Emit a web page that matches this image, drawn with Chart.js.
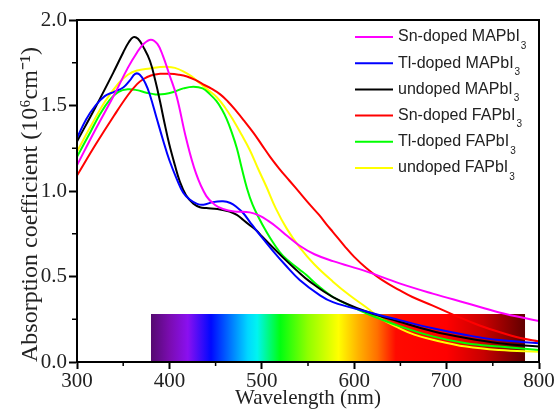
<!DOCTYPE html>
<html>
<head>
<meta charset="utf-8">
<title>Absorption coefficient of doped MAPbI3 and FAPbI3</title>
<script src="https://cdn.jsdelivr.net/npm/chart.js@4.4.1/dist/chart.umd.min.js"></script>
<style>
  html, body { margin: 0; padding: 0; background: #fff; }
  #wrap { width: 556px; height: 409px; }
</style>
</head>
<body>
<div id="wrap"><canvas id="chart" width="556" height="409"></canvas></div>
<script>
// Wavelength (nm) vs absorption coefficient (10^6 cm^-1), one array per film
const snMAPbI3 = [[300,1.15],[320,1.36],[340,1.56],[355,1.72],[365,1.81],[372,1.86],[380,1.885],[387,1.86],[393,1.79],[400,1.68],[408,1.55],[418,1.31],[429,1.10],[440,0.97],[449,0.92],[458,0.895],[470,0.88],[487,0.875],[498,0.855],[507,0.825],[516,0.79],[528,0.735],[541,0.68],[557,0.63],[577,0.59],[613,0.53],[649,0.46],[685,0.40],[721,0.345],[757,0.29],[800,0.24]];
const tlMAPbI3 = [[300,1.31],[310,1.42],[320,1.50],[330,1.555],[340,1.58],[350,1.605],[357,1.645],[363,1.685],[368,1.68],[374,1.63],[379,1.56],[386,1.43],[393,1.30],[400,1.18],[408,1.07],[415,0.99],[422,0.95],[430,0.925],[437,0.92],[447,0.935],[458,0.94],[466,0.93],[473,0.905],[480,0.87],[487,0.82],[494,0.77],[503,0.71],[512,0.65],[525,0.57],[541,0.48],[563,0.39],[577,0.35],[613,0.295],[649,0.245],[685,0.197],[721,0.158],[757,0.128],[800,0.11]];
const undopedMAPbI3 = [[300,1.29],[320,1.49],[340,1.70],[350,1.81],[356,1.87],[361,1.90],[366,1.89],[372,1.84],[379,1.76],[385,1.64],[390,1.52],[395,1.39],[400,1.27],[406,1.15],[411,1.06],[418,0.975],[426,0.925],[433,0.905],[440,0.90],[452,0.895],[465,0.88],[473,0.86],[480,0.83],[487,0.80],[494,0.77],[500,0.735],[512,0.67],[525,0.60],[537,0.54],[552,0.47],[577,0.38],[613,0.295],[649,0.235],[685,0.18],[721,0.14],[757,0.11],[800,0.09]];
const snFAPbI3 = [[300,1.09],[320,1.27],[340,1.44],[355,1.56],[365,1.625],[372,1.655],[380,1.675],[390,1.685],[400,1.685],[410,1.68],[419,1.67],[428,1.65],[436,1.625],[445,1.60],[455,1.565],[463,1.525],[472,1.47],[481,1.41],[491,1.34],[500,1.27],[509,1.20],[519,1.13],[530,1.06],[541,0.99],[552,0.92],[562,0.86],[570,0.805],[577,0.76],[590,0.675],[600,0.615],[613,0.55],[630,0.48],[649,0.42],[663,0.38],[685,0.33],[710,0.27],[735,0.215],[757,0.175],[780,0.14],[800,0.12]];
const tlFAPbI3 = [[300,1.20],[315,1.35],[325,1.45],[335,1.53],[345,1.58],[355,1.595],[365,1.59],[375,1.575],[385,1.565],[395,1.567],[405,1.58],[415,1.60],[426,1.61],[436,1.60],[444,1.565],[451,1.525],[457,1.475],[462,1.42],[467,1.35],[473,1.25],[478,1.14],[484,1.015],[490,0.92],[498,0.83],[503,0.78],[512,0.70],[523,0.62],[541,0.54],[548,0.51],[560,0.45],[577,0.38],[595,0.33],[613,0.285],[649,0.21],[685,0.15],[721,0.11],[757,0.09],[800,0.07]];
const undopedFAPbI3 = [[300,1.23],[315,1.38],[330,1.52],[345,1.63],[355,1.68],[365,1.705],[379,1.717],[390,1.725],[397,1.727],[406,1.72],[415,1.70],[424,1.67],[433,1.63],[442,1.59],[451,1.55],[460,1.49],[469,1.415],[478,1.33],[487,1.24],[496,1.13],[505,1.025],[515,0.90],[527,0.78],[541,0.67],[557,0.57],[577,0.47],[595,0.39],[613,0.32],[630,0.25],[649,0.197],[665,0.16],[685,0.13],[721,0.09],[757,0.07],[800,0.06]];

const seriesLabels = ['Sn-doped MAPbI', 'Tl-doped MAPbI', 'undoped MAPbI', 'Sn-doped FAPbI', 'Tl-doped FAPbI', 'undoped FAPbI'];
const seriesData = [snMAPbI3, tlMAPbI3, undopedMAPbI3, snFAPbI3, tlFAPbI3, undopedFAPbI3];
const seriesColors = ['#ff00ff', '#0000ff', '#000000', '#ff0000', '#00ff00', '#ffff00'];

// Visible-spectrum band: wavelength extent, height, and colour stops
const spectrumBand = [[380, 0.28], [785, 0.28]];
const spectrumStops = [
  [380, '#550a70'], [400, '#7a0cb0'], [420, '#8a10f0'], [445, '#0008ff'],
  [465, '#0070ff'], [485, '#00d8ff'], [495, '#00f4f0'], [520, '#00ff10'],
  [550, '#90ff00'], [583, '#ffff00'], [605, '#ffb000'], [625, '#ff7000'],
  [645, '#ff0a00'], [700, '#ff0000'], [740, '#c80000'], [785, '#600000']
];

const xTicks = { min: 300, max: 800, step: 100 };
const yTicks = { min: 0, max: 2, step: 0.5 };

const toPoints = arr => arr.map(([x, y]) => ({ x, y }));

function spectrumFill(ctx) {
  const chart = ctx.chart;
  const area = chart.chartArea;
  const xs = chart.scales.x;
  if (!area || !xs) return 'rgba(0,0,0,0)';
  const a = spectrumBand[0][0], b = spectrumBand[spectrumBand.length - 1][0];
  const g = chart.ctx.createLinearGradient(xs.getPixelForValue(a), 0, xs.getPixelForValue(b), 0);
  spectrumStops.forEach(([w, c]) => g.addColorStop((w - a) / (b - a), c));
  return g;
}

const datasets = seriesData.map((arr, i) => ({
  label: seriesLabels[i],
  data: toPoints(arr),
  borderColor: seriesColors[i],
  backgroundColor: seriesColors[i],
  borderWidth: 2,
  pointRadius: 0,
  fill: false,
  tension: 0.4,
  order: 0
}));
datasets.push({
  label: 'spectrum',
  data: toPoints(spectrumBand),
  borderWidth: 0,
  borderColor: 'rgba(0,0,0,0)',
  pointRadius: 0,
  tension: 0,
  fill: 'origin',
  backgroundColor: spectrumFill,
  order: 10
});

// Plot frame, minor ticks and the line legend
const framePlugin = {
  id: 'frame',
  afterDraw(chart) {
    const { ctx, chartArea: a, scales } = chart;
    ctx.save();
    ctx.strokeStyle = '#000';
    ctx.lineWidth = 2;
    ctx.strokeRect(a.left, a.top, a.right - a.left, a.bottom - a.top);
    ctx.lineWidth = 1.5;
    const xt = scales.x.ticks, yt = scales.y.ticks;
    for (let i = 0; i < xt.length - 1; i++) {
      const px = scales.x.getPixelForValue((xt[i].value + xt[i + 1].value) / 2);
      ctx.beginPath(); ctx.moveTo(px, a.bottom); ctx.lineTo(px, a.bottom + 4); ctx.stroke();
    }
    for (let i = 0; i < yt.length - 1; i++) {
      const py = scales.y.getPixelForValue((yt[i].value + yt[i + 1].value) / 2);
      ctx.beginPath(); ctx.moveTo(a.left, py); ctx.lineTo(a.left - 5, py); ctx.stroke();
    }
    // legend
    const lx0 = a.right - 184, lx1 = a.right - 146, tx = a.right - 141;
    seriesLabels.forEach((lab, i) => {
      const y = a.top + 17 + i * 26.2;
      ctx.strokeStyle = seriesColors[i];
      ctx.lineWidth = 2;
      ctx.beginPath(); ctx.moveTo(lx0, y); ctx.lineTo(lx1, y); ctx.stroke();
      ctx.fillStyle = '#222';
      ctx.textBaseline = 'middle';
      ctx.textAlign = 'left';
      ctx.font = '16px "Liberation Sans", Arial, sans-serif';
      ctx.fillText(lab, tx, y);
      const w = ctx.measureText(lab).width;
      ctx.font = '10px "Liberation Sans", Arial, sans-serif';
      ctx.fillText('3', tx + w + 1, y + 9);
    });
    ctx.restore();
  }
};

const serif = '"Liberation Serif", "Times New Roman", serif';

new Chart(document.getElementById('chart'), {
  type: 'line',
  data: { datasets },
  plugins: [framePlugin],
  options: {
    responsive: false,
    animation: false,
    devicePixelRatio: 1,
    layout: { padding: { top: 20, right: 17, left: 0, bottom: 0 } },
    plugins: { legend: { display: false }, tooltip: { enabled: false } },
    scales: {
      x: {
        type: 'linear',
        min: xTicks.min, max: xTicks.max,
        afterFit(s) { s.height = 47; },
        ticks: { stepSize: xTicks.step, color: '#222', font: { family: serif, size: 21 }, padding: 0, maxRotation: 0 },
        grid: { drawOnChartArea: false, drawTicks: true, tickLength: 7, tickWidth: 2, tickColor: '#000' },
        border: { display: true, color: '#000', width: 2 },
        title: { display: true, text: 'Wavelength (nm)', color: '#222', font: { family: serif, size: 21, lineHeight: 1 }, padding: { top: 0, bottom: 0 } }
      },
      y: {
        type: 'linear',
        min: yTicks.min, max: yTicks.max,
        afterFit(s) { s.width = 77; },
        ticks: { stepSize: yTicks.step, color: '#222', font: { family: serif, size: 21 }, padding: 2, callback: v => v.toFixed(1) },
        grid: { drawOnChartArea: false, drawTicks: true, tickLength: 8, tickWidth: 2, tickColor: '#000' },
        border: { display: true, color: '#000', width: 2 },
        title: { display: true, align: 'start', text: 'Absorption coefficient (10⁶cm⁻¹)', color: '#222', font: { family: serif, size: 24, lineHeight: 1 }, padding: { top: 19, bottom: 0 } }
      }
    }
  }
});
</script>
</body>
</html>
